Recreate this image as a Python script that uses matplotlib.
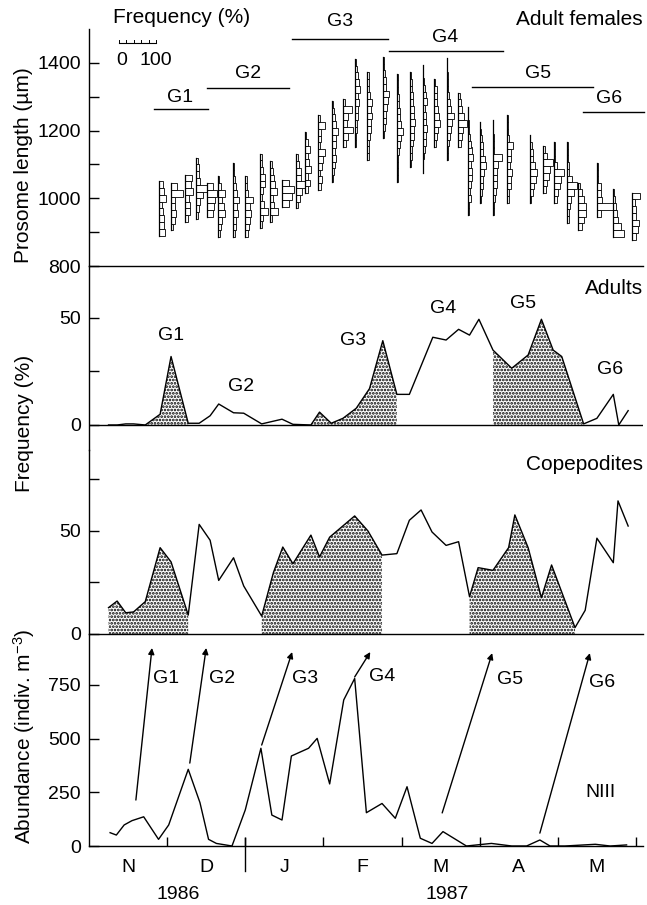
import matplotlib.pyplot as plt
from matplotlib.patches import Rectangle

plt.rcParams['font.family'] = ['Liberation Sans', 'DejaVu Sans']
plt.rcParams['mathtext.fontset'] = 'custom'
plt.rcParams['mathtext.rm'] = 'Liberation Sans'
plt.rcParams['hatch.linewidth'] = 1.3
plt.rcParams['axes.linewidth'] = 1.0

# time axis: months since 1 Nov 1986
MONTHS = ["N", "D", "J", "F", "M", "A", "M"]
YEARS = ["1986", "1987"]
year_x = [1.14, 4.58]
year_break = 2.0
x_end = 7.09

# adult female prosome length kites: sample date, lowest class (um), % per 20 um class
hist_t = [0.90, 1.05, 1.23, 1.37, 1.51, 1.65, 1.84, 2.00, 2.19, 2.32, 2.47, 2.65, 2.76,
          2.93, 3.11, 3.25, 3.40, 3.56, 3.76, 3.94, 4.11, 4.27, 4.41, 4.58, 4.72, 4.85,
          5.00, 5.17, 5.35, 5.64, 5.81, 5.95, 6.12, 6.26, 6.50, 6.70, 6.95]
hist_low = [890, 905, 930, 940, 945, 885, 885, 885, 912, 930, 975, 970, 1015,
            1025, 1048, 1152, 1152, 1113, 1178, 1048, 1093, 1075, 1152, 1113, 1152, 950,
            986, 950, 986, 986, 1015, 986, 927, 906, 945, 886, 877]
hist_freq = [
    [16, 14, 12, 10, 8, 18, 12, 10],
    [6, 10, 14, 12, 10, 32, 16],
    [8, 12, 14, 10, 22, 16, 18],
    [4, 8, 10, 18, 30, 10, 8, 8, 4],
    [16, 20, 22, 27, 15],
    [6, 8, 10, 18, 16, 10, 20, 8, 4],
    [6, 8, 10, 14, 12, 16, 12, 8, 6, 4, 4],
    [8, 10, 14, 16, 14, 22, 8, 4, 4],
    [6, 8, 20, 10, 6, 8, 14, 12, 8, 4, 4],
    [6, 22, 10, 8, 18, 14, 10, 8, 4],
    [20, 28, 32, 20],
    [6, 10, 16, 28, 14, 12, 8, 6],
    [10, 14, 10, 18, 12, 10, 14, 8, 4],
    [8, 10, 6, 10, 14, 18, 6, 8, 8, 20, 6],
    [4, 6, 8, 10, 8, 12, 10, 16, 10, 8, 6, 4],
    [8, 14, 26, 10, 14, 24, 6],
    [4, 4, 6, 6, 8, 10, 12, 10, 14, 12, 8, 6, 4],
    [4, 4, 6, 8, 10, 10, 14, 10, 12, 8, 6, 4, 4],
    [4, 6, 8, 10, 12, 14, 16, 10, 8, 6, 4, 2],
    [2, 2, 4, 4, 6, 8, 10, 16, 10, 8, 8, 6, 6, 4, 4, 2],
    [2, 4, 6, 8, 10, 10, 12, 10, 10, 8, 8, 6, 4, 2],
    [2, 2, 4, 6, 8, 8, 12, 10, 8, 6, 12, 8, 6, 4, 2, 2],
    [6, 8, 12, 18, 14, 12, 10, 8, 8, 4],
    [2, 4, 6, 8, 10, 14, 20, 10, 8, 6, 4, 4, 2, 1, 1],
    [8, 10, 14, 26, 16, 12, 8, 6],
    [2, 4, 8, 6, 8, 10, 10, 8, 14, 10, 8, 6, 2, 2, 1, 1],
    [4, 6, 8, 10, 12, 16, 14, 10, 8, 6, 4, 2],
    [2, 4, 6, 8, 10, 10, 12, 14, 24, 4, 2, 2, 1, 1],
    [4, 6, 10, 10, 14, 8, 10, 12, 16, 4, 2, 2, 2],
    [4, 8, 12, 16, 20, 14, 10, 8, 6, 2],
    [8, 10, 16, 20, 28, 12, 6],
    [8, 12, 16, 20, 28, 8, 4, 2, 2],
    [4, 6, 8, 10, 18, 26, 12, 6, 4, 2, 2, 2],
    [10, 16, 22, 20, 16, 10, 6],
    [10, 44, 14, 12, 10, 4, 2, 4],
    [30, 22, 16, 12, 10, 6, 4],
    [12, 16, 20, 12, 10, 8, 22],
]
bin_um = 20
freq_scale = 0.473 / 100  # months of x axis per 1 % (scale bar 0-100)

# generations marked above the kites
gen = ["G1", "G2", "G3", "G4", "G5", "G6"]
gen_start = [0.83, 1.51, 2.60, 3.84, 4.90, 6.32]
gen_end = [1.52, 2.56, 3.83, 5.30, 6.45, 7.10]
gen_len = [1264, 1326, 1471, 1435, 1329, 1255]

# adults, % of the population
ad_t = [0.25, 0.36, 0.47, 0.57, 0.72, 0.91, 1.05, 1.27, 1.41, 1.55, 1.66, 1.85, 1.98, 2.21,
        2.47, 2.61, 2.84, 2.95, 3.10, 3.25, 3.42, 3.59, 3.76, 3.94, 4.10, 4.40, 4.57, 4.73,
        4.87, 4.99, 5.17, 5.41, 5.62, 5.79, 5.94, 6.05, 6.33, 6.50, 6.71, 6.78, 6.90]
ad_pct = [0, 0, 0.5, 0.5, 0, 5, 32, 0.8, 0.8, 4.3, 9.8, 5.7, 5.5, 0.5,
          2.7, 0.3, 0, 6, 0.8, 3.1, 7.8, 17, 39.4, 14.3, 14.3, 41, 39.7, 44.7,
          42, 49.4, 35, 26.5, 32.7, 49.4, 35, 32, 0.5, 3.1, 14.3, 0, 6.7]
ad_shade = [(0.72, 1.27), (2.84, 3.94), (5.17, 6.33)]

# copepodites, % of the population
cop_t = [0.25, 0.36, 0.47, 0.57, 0.72, 0.91, 1.05, 1.27, 1.41, 1.55, 1.66, 1.85, 1.98, 2.21,
         2.36, 2.48, 2.61, 2.84, 2.95, 3.08, 3.40, 3.57, 3.75, 3.94, 4.10, 4.25, 4.39, 4.57,
         4.73, 4.87, 4.98, 5.17, 5.37, 5.45, 5.62, 5.79, 5.92, 6.22, 6.35, 6.50, 6.71, 6.77, 6.90]
cop_pct = [12.8, 16, 10.3, 10.7, 15.7, 41.9, 35, 9.2, 53.2, 45.5, 26, 37, 23.3, 8.7,
           29.8, 42.2, 34.1, 48, 37.4, 47, 57.3, 50, 38.3, 39, 55.2, 60.2, 49.5, 43,
           44.8, 18.1, 32.2, 30.9, 41.9, 57.8, 41.9, 17.6, 33.5, 3.1, 11.5, 46.5, 34.6, 64.6, 52.4]
cop_shade = [(0.25, 1.27), (2.21, 3.75), (4.87, 6.22)]

# nauplii NIII, indiv. m-3
n3_t = [0.27, 0.35, 0.45, 0.55, 0.70, 0.89, 1.02, 1.27, 1.42, 1.53, 1.63, 1.83, 2.00, 2.20,
        2.34, 2.47, 2.59, 2.81, 2.92, 3.08, 3.26, 3.40, 3.55, 3.75, 3.92, 4.07, 4.24, 4.39,
        4.53, 4.83, 5.15, 5.41, 5.60, 5.77, 5.90, 6.09, 6.48, 6.67, 6.88]
n3_val = [62, 51, 98, 118, 136, 31, 98, 357, 202, 31, 12, 0, 168, 455,
          144, 121, 419, 455, 501, 289, 680, 780, 155, 198, 129, 276, 36, 12,
          67, 0, 12, 0, 0, 28, 0, 0, 8, 0, 5]

# arrows linking NIII peaks to the adult generations
arr_from = [(0.60, 214), (1.29, 386), (2.21, 470), (3.40, 787), (4.52, 154), (5.77, 60)]
arr_to = [(0.806, 922), (1.50, 922), (2.60, 903), (3.60, 903), (5.16, 898), (6.41, 898)]

FS = 14
W, H = 647, 905
fig = plt.figure(figsize=(W / 100, H / 100), dpi=100)


def panel(top, bottom):
    ax = fig.add_axes([89 / W, 1 - bottom / H, (643 - 89) / W, (bottom - top) / H])
    ax.patch.set_visible(False)
    for s in ("top", "right"):
        ax.spines[s].set_visible(False)
    ax.set_xlim(0, x_end)
    ax.tick_params(axis="y", which="both", direction="in", length=7, width=1,
                   labelsize=FS, pad=6)
    return ax


ax_f = panel(29, 266)
ax_a = panel(266, 450)
ax_c = panel(450, 634)
ax_n = panel(634, 846)

for ax in (ax_f, ax_a, ax_c):
    ax.set_xticks([])
ax_a.spines["bottom"].set_visible(False)

# --- adult females
ax_f.set_ylim(800, 1500)
ax_f.set_yticks([800, 1000, 1200, 1400])
ax_f.set_yticks([900, 1100, 1300], minor=True)
for t, lo, fr in zip(hist_t, hist_low, hist_freq):
    for i, f in enumerate(fr):
        ax_f.add_patch(Rectangle((t, lo + i * bin_um), f * freq_scale, bin_um,
                                 facecolor="white", edgecolor="black", lw=0.6))
    ax_f.plot([t, t], [lo, lo + bin_um * len(fr)], color="black", lw=0.9)

for g, a, b, y in zip(gen, gen_start, gen_end, gen_len):
    ax_f.plot([a, b], [y, y], color="black", lw=1.0, clip_on=False)
gen_lab_x = [1.165, 2.03, 3.21, 4.56, 5.75, 6.65]
gen_lab_y = [1299, 1370, 1521, 1476, 1370, 1296]
for g, x, y in zip(gen, gen_lab_x, gen_lab_y):
    ax_f.text(x, y, g, fontsize=FS, ha="center", va="center")

# scale bar for the kites
sb_x, sb_y = 0.384, 1459
ax_f.plot([sb_x, sb_x + 100 * freq_scale], [sb_y, sb_y], color="black", lw=0.8)
for k in range(0, 101, 20):
    ax_f.plot([sb_x + k * freq_scale] * 2, [sb_y, sb_y + 8], color="black", lw=0.7)
ax_f.text(sb_x + 0.03, 1408, "0", fontsize=FS, ha="center", va="center")
ax_f.text(sb_x + 100 * freq_scale, 1408, "100", fontsize=FS, ha="center", va="center")
ax_f.text(1.19, 1535, "Frequency (%)", fontsize=15, ha="center", va="center")
ax_f.text(x_end, 1527, "Adult females", fontsize=15, ha="right", va="center")

# --- adults
ax_a.set_ylim(-11.7, 74.3)
ax_a.set_yticks([0, 50])
ax_a.set_yticks([25], minor=True)
ax_a.axhline(0, color="black", lw=1.0)
for a, b in ad_shade:
    mask = [a - 1e-6 <= t <= b + 1e-6 for t in ad_t]
    ax_a.fill_between(ad_t, 0, ad_pct, where=mask, facecolor="white",
                      edgecolor="black", hatch=".....", linewidth=0)
ax_a.plot(ad_t, ad_pct, color="black", lw=1.0)
ad_lab = [(1.05, 42), (1.95, 17.9), (3.38, 39.7), (4.53, 54.5), (5.56, 56.9), (6.67, 25.7)]
for g, (x, y) in zip(gen, ad_lab):
    ax_a.text(x, y, g, fontsize=FS, ha="center", va="center")
ax_a.text(x_end, 64, "Adults", fontsize=15, ha="right", va="center")

# --- copepodites
ax_c.set_ylim(0, 89.3)
ax_c.set_yticks([0, 50])
ax_c.set_yticks([25, 75], minor=True)
for a, b in cop_shade:
    mask = [a - 1e-6 <= t <= b + 1e-6 for t in cop_t]
    ax_c.fill_between(cop_t, 0, cop_pct, where=mask, facecolor="white",
                      edgecolor="black", hatch=".....", linewidth=0)
ax_c.plot(cop_t, cop_pct, color="black", lw=1.0)
ax_c.text(x_end, 82.5, "Copepodites", fontsize=15, ha="right", va="center")

# --- NIII abundance
ax_n.set_ylim(0, 987)
ax_n.set_yticks([0, 250, 500, 750])
ax_n.plot(n3_t, n3_val, color="black", lw=1.0)
for (x0, y0), (x1, y1) in zip(arr_from, arr_to):
    ax_n.annotate("", xy=(x1, y1), xytext=(x0, y0),
                  arrowprops=dict(arrowstyle="-|>", color="black", lw=1.0,
                                  mutation_scale=9, shrinkA=0, shrinkB=0))
n3_lab = [(0.985, 782), (1.70, 782), (2.76, 782), (3.75, 787), (5.39, 773), (6.56, 763)]
for g, (x, y) in zip(gen, n3_lab):
    ax_n.text(x, y, g, fontsize=FS, ha="center", va="center")
ax_n.text(6.54, 247, "NIII", fontsize=FS, ha="center", va="center")

ax_n.set_xticks(range(1, 8))
ax_n.tick_params(axis="x", direction="in", length=6.5, width=1, labelbottom=False)
xt = ax_n.get_xaxis_transform()
ax_n.plot([year_break, year_break], [-0.12, 0.04], transform=xt, color="black",
          lw=1.0, clip_on=False)
for i, m in enumerate(MONTHS):
    ax_n.text(i + 0.5, -0.10, m, transform=xt, fontsize=FS, ha="center", va="center")
for x, y in zip(year_x, YEARS):
    ax_n.text(x, -0.23, y, transform=xt, fontsize=FS, ha="center", va="center")

# y labels
fig.text(24 / W, 1 - 165 / H, "Prosome length (µm)", rotation=90, fontsize=15,
         ha="center", va="center")
fig.text(24 / W, 1 - 423 / H, "Frequency (%)", rotation=90, fontsize=15,
         ha="center", va="center")
fig.text(24 / W, 1 - 736 / H, r"Abundance (indiv. m$\mathregular{^{-3}}$)", rotation=90,
         fontsize=15, ha="center", va="center")

fig.savefig("out.png", dpi=100)
